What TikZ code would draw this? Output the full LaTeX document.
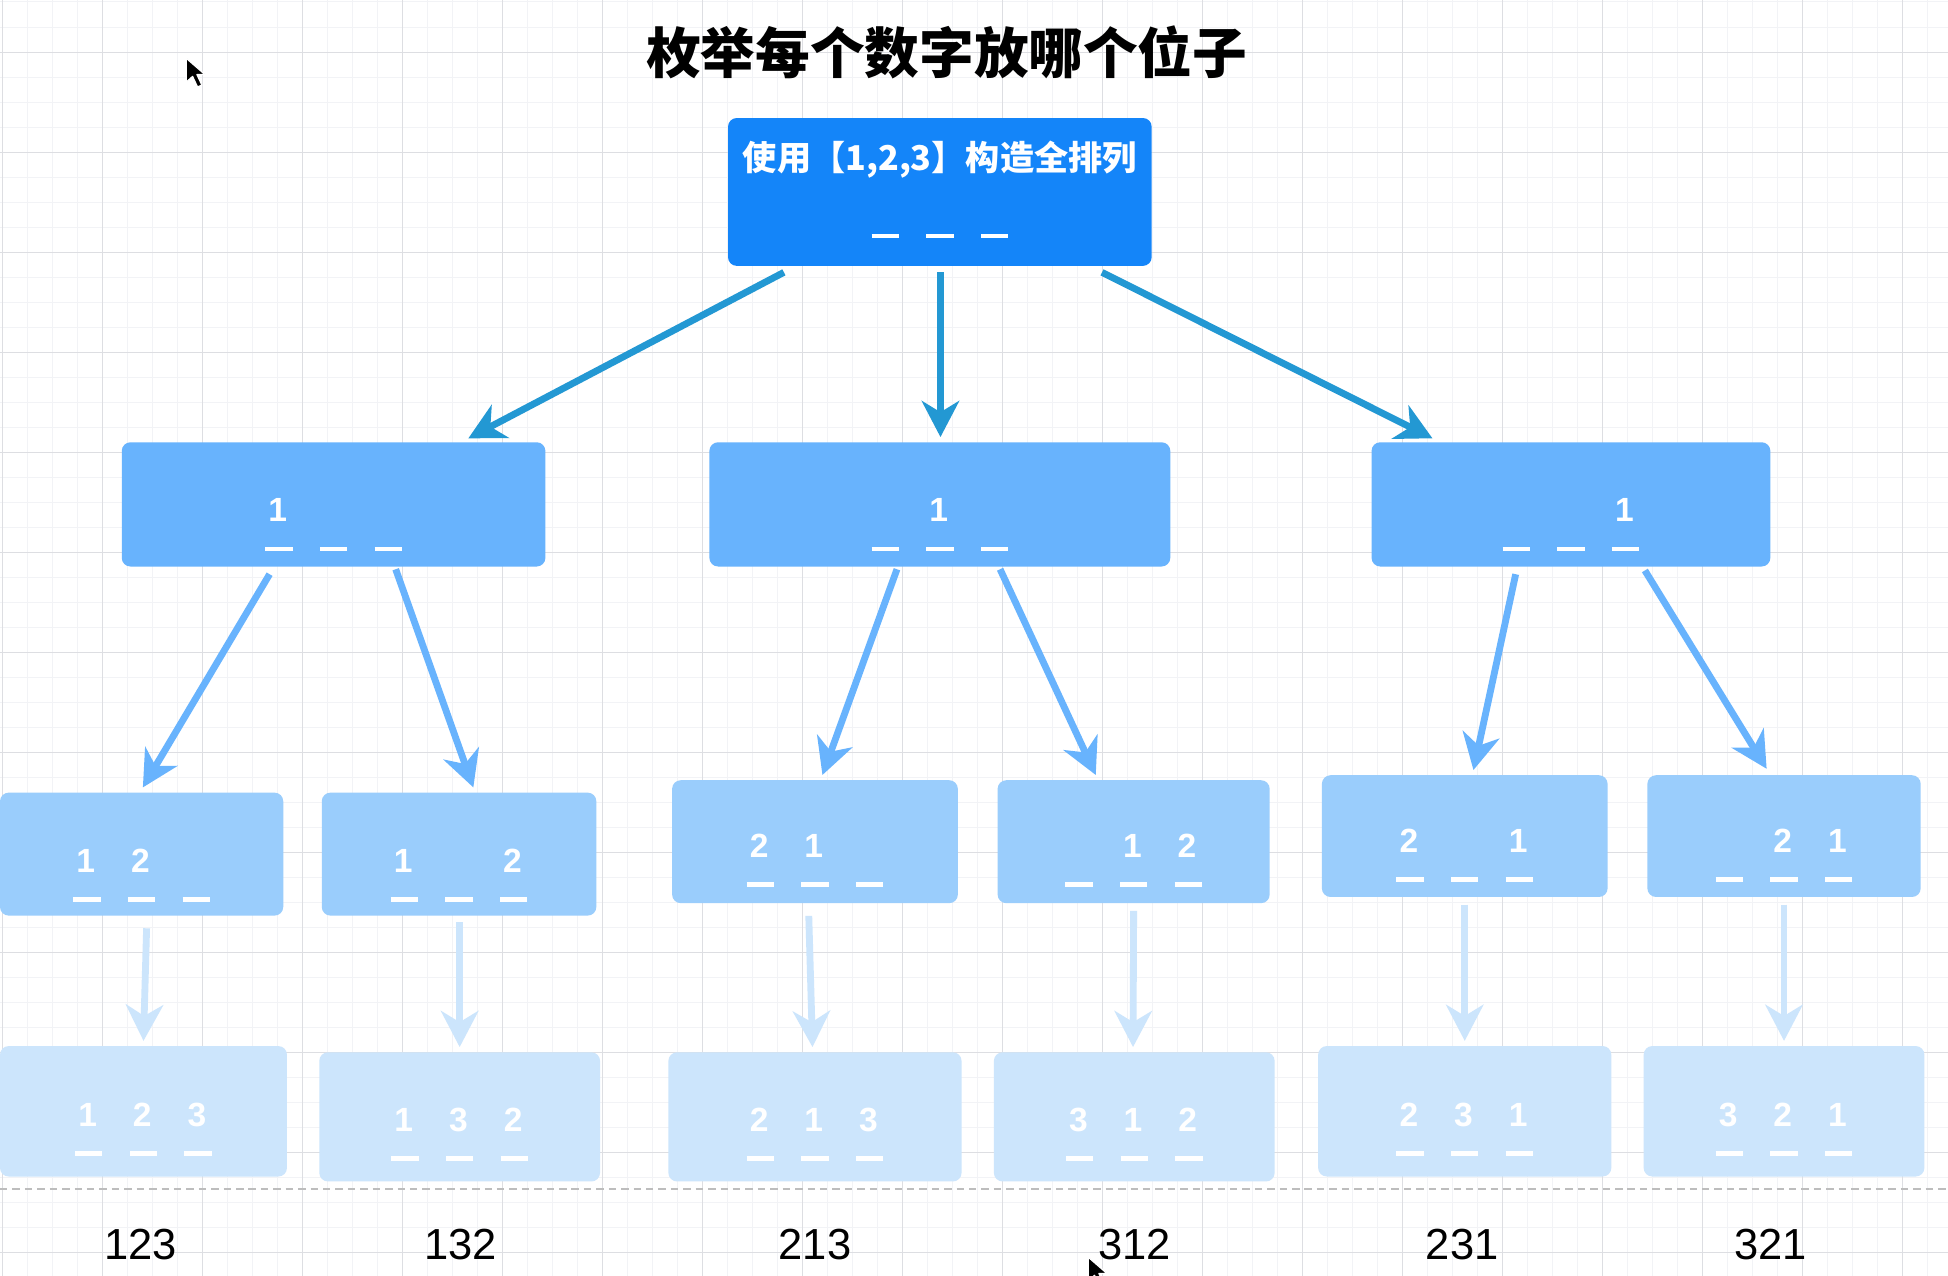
\documentclass[tikz,border=0pt]{standalone}
\usepackage{fontspec}
\setmainfont{Liberation Sans}
\newfontfamily\cjk{Noto Sans CJK SC}
\newfontfamily\digf{Liberation Sans}
\usetikzlibrary{arrows.meta,calc}
\definecolor{c0}{HTML}{1485F9}
\definecolor{ca}{HTML}{2398D3}
\definecolor{c1}{HTML}{68B3FD}
\definecolor{c2}{HTML}{9ACDFC}
\definecolor{c3}{HTML}{CCE5FC}
\definecolor{gmin}{HTML}{F2F3F6}
\definecolor{gmaj}{HTML}{DDDEE2}
\definecolor{sep}{HTML}{BDBDBD}
\newcommand{\mslot}[1]{\makebox[22pt]{#1\hspace{2pt}}\hspace{-22pt}\raisebox{-23.75pt}{\rule{22pt}{3.5pt}}}
\newcommand{\slotrow}[3]{\mslot{#1}\hspace{22pt}\mslot{#2}\hspace{22pt}\mslot{#3}}
\begin{document}
\begin{tikzpicture}[x=1pt,y=-1pt,
  box/.style={rounded corners=7pt, inner sep=0pt, text=white,
    font=\digf\bfseries\fontsize{27pt}{27pt}\selectfont},
  b0/.style={box, fill=c0},
  b1/.style={box, fill=c1, text height=64pt, text depth=36pt},
  b2/.style={box, fill=c2},
  b3/.style={box, fill=c3},
  tipx/.style={-{Stealth[length=29pt,width=30pt,inset=9pt]}},
  arr0/.style={draw=ca, line width=5.5pt, tipx},
  arr1/.style={draw=c1, line width=5.5pt, tipx},
  arr2/.style={draw=c3, line width=5.5pt, tipx},
  lab/.style={inner sep=0pt, font=\digf\fontsize{35pt}{35pt}\selectfont},
  cursor/.style={fill=black, draw=white, line width=1pt, line join=round}
]
\useasboundingbox (0,0) rectangle (1568,1027);
\fill[white] (0,0) rectangle (1568,1027);
% grid
\foreach \k in {0,...,78} {
  \draw[gmin, line width=0.8pt] ({1.61+20.125*\k},0) -- ({1.61+20.125*\k},1027);
}
\foreach \k in {0,...,51} {
  \draw[gmin, line width=0.8pt] (0,{1.61+20.125*\k}) -- (1568,{1.61+20.125*\k});
}
\foreach \k in {0,...,19} {
  \draw[gmaj, line width=0.8pt] ({1.61+80.5*\k},0) -- ({1.61+80.5*\k},1027);
}
\foreach \k in {0,...,12} {
  \draw[gmaj, line width=0.8pt] (0,{41.86+80.5*\k}) -- (1568,{41.86+80.5*\k});
}

% title
\node[inner sep=0pt, font=\cjk\bfseries\fontsize{44pt}{44pt}\selectfont] (title) at (762,42) {枚举每个数字放哪个位子};

% root
\node[b0, minimum width=341pt, text height=42pt, text depth=77pt] (root) at (756.5,154.5)
  {\makebox[0pt]{\cjk\bfseries\fontsize{27.5pt}{27.5pt}\selectfont 使用【1,2,3】构造全排列}\makebox[0pt]{\raisebox{-31pt}{\slotrow{}{}{}}}};

% level 1
\node[b1, minimum width=341pt] (l1a) at (268.5,406) {\slotrow{1}{}{}};
\node[b1, minimum width=371pt] (l1b) at (756.5,406) {\slotrow{}{1}{}};
\node[b1, minimum width=321pt] (l1c) at (1264.5,406) {\slotrow{}{}{1}};

% level 2
\node[b2, minimum width=228pt, text height=64pt, text depth=35pt] (l2a) at (114,687.5) {\slotrow{1}{2}{}};
\node[b2, minimum width=221pt, text height=64pt, text depth=35pt] (l2b) at (369.5,687.5) {\slotrow{1}{}{2}};
\node[b2, minimum width=230pt, text height=62pt, text depth=37pt] (l2c) at (656,677.5) {\slotrow{2}{1}{}};
\node[b2, minimum width=219pt, text height=62pt, text depth=37pt] (l2d) at (912.5,677.5) {\slotrow{}{1}{2}};
\node[b2, minimum width=230pt, text height=62pt, text depth=36pt] (l2e) at (1179,673) {\slotrow{2}{}{1}};
\node[b2, minimum width=220pt, text height=62pt, text depth=36pt] (l2f) at (1436,673) {\slotrow{}{2}{1}};

% level 3
\node[b3, minimum width=231pt, text height=64.5pt, text depth=40.5pt] (l3a) at (115.5,894.5) {\slotrow{1}{2}{3}};
\node[b3, minimum width=226pt, text height=63.5pt, text depth=40.5pt] (l3b) at (370,899) {\slotrow{1}{3}{2}};
\node[b3, minimum width=236pt, text height=63.5pt, text depth=40.5pt] (l3c) at (656,899) {\slotrow{2}{1}{3}};
\node[b3, minimum width=226pt, text height=63.5pt, text depth=40.5pt] (l3d) at (913,899) {\slotrow{3}{1}{2}};
\node[b3, minimum width=236pt, text height=64.5pt, text depth=40.5pt] (l3e) at (1179,894.5) {\slotrow{2}{3}{1}};
\node[b3, minimum width=226pt, text height=64.5pt, text depth=40.5pt] (l3f) at (1436,894.5) {\slotrow{3}{2}{1}};

% arrows root -> level 1
\draw[arr0] ($(root.south)+(-125.5,5)$) -- ($(l1a.north)+(108.5,-3)$);
\draw[arr0] ($(root.south)+(0.5,5)$) -- ($(l1b.north)+(0.5,-4)$);
\draw[arr0] ($(root.south)+(130.5,5)$) -- ($(l1c.north)+(-111.5,-3)$);

% arrows level 1 -> level 2
\draw[arr1] ($(l1a.south)+(-51.5,6)$) -- ($(l2a.north)+(1,-4)$);
\draw[arr1] ($(l1a.south)+(50,2)$) -- ($(l2b.north)+(11.5,-4)$);
\draw[arr1] ($(l1b.south)+(-34.5,2)$) -- ($(l2c.north)+(6,-4)$);
\draw[arr1] ($(l1b.south)+(48.5,2)$) -- ($(l2d.north)+(-30.5,-4)$);
\draw[arr1] ($(l1c.south)+(-44.5,6)$) -- ($(l2e.north)+(7,-4)$);
\draw[arr1] ($(l1c.south)+(59.5,3)$) -- ($(l2f.north)+(-14,-5)$);

% arrows level 2 -> level 3
\draw[arr2] ($(l2a.south)+(4,10)$) -- ($(l3a.north)+(0,-4)$);
\draw[arr2] ($(l2b.south)+(0.5,5)$) -- ($(l3b.north)+(0,-4)$);
\draw[arr2] ($(l2c.south)+(-5,10)$) -- ($(l3c.north)+(-2,-4)$);
\draw[arr2] ($(l2d.south)+(0,6)$) -- ($(l3d.north)+(-1,-4)$);
\draw[arr2] ($(l2e.south)+(0,6)$) -- ($(l3e.north)+(0,-4)$);
\draw[arr2] ($(l2f.south)+(0,6)$) -- ($(l3f.north)+(0,-4)$);

% separator
\draw[sep, line width=1.2pt, dash pattern=on 6pt off 4pt] (0,957) -- (1568,957);

% results
\node[lab] (r1) at (113,1002) {123};
\node[lab] (r2) at (371,1002) {132};
\node[lab] (r3) at (656,1002) {213};
\node[lab] (r4) at (913,1002) {312};
\node[lab] (r5) at (1177,1002) {231};
\node[lab] (r6) at (1425,1002) {321};

% cursors
\filldraw[cursor] (150,47) -- (150,66) -- (155,61.5) -- (159,70) -- (162.5,68.5) -- (158.5,60) -- (165,60) -- cycle;
\filldraw[cursor] (876,1012) -- (876,1031) -- (881,1026.5) -- (885,1035) -- (888.5,1033.5) -- (884.5,1025) -- (891,1025) -- cycle;
\end{tikzpicture}
\end{document}
